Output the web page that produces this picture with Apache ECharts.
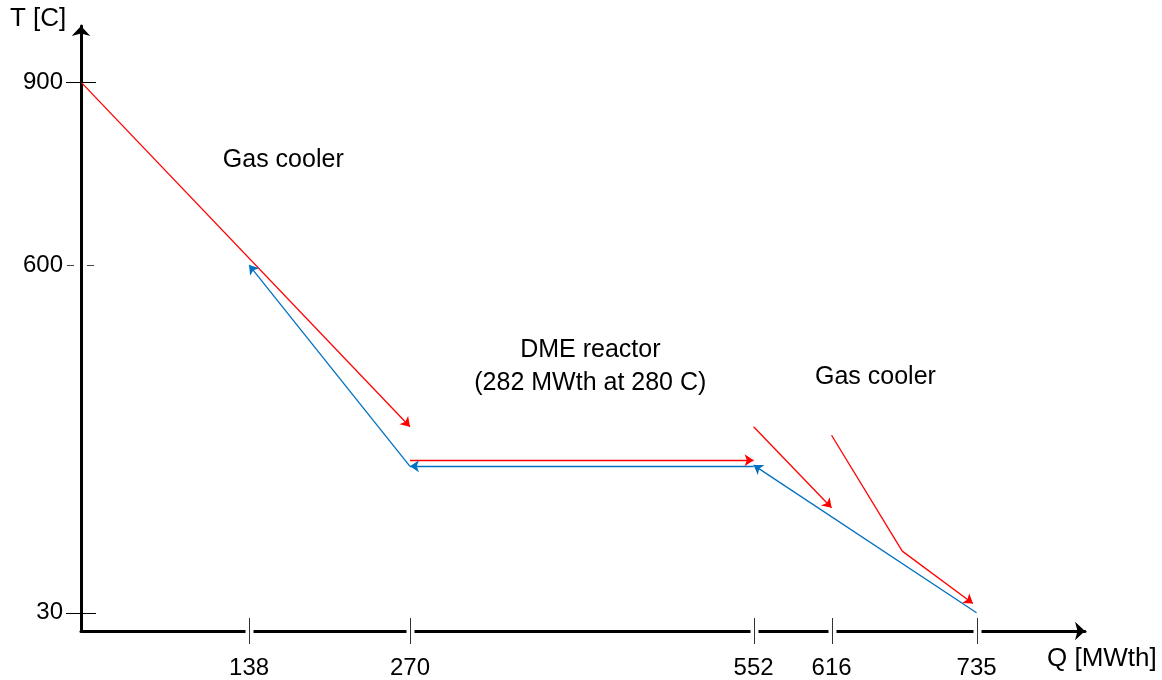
<!DOCTYPE html>
<html>
<head>
<meta charset="utf-8">
<script src="https://cdn.jsdelivr.net/npm/echarts@6/dist/echarts.min.js"></script>
<style>
  html, body { margin: 0; padding: 0; background: #fff; }
  #chart { width: 1162px; height: 680px; }
</style>
</head>
<body>
<div id="chart"></div>
<script>
// Q [MWth] / T [C] diagram data
var xTicks = [138, 270, 552, 616, 735];
var yTicks = [30, 600, 900];

// hot stream (red), segments ending in an arrow
var redArrows = [
    [[0, 900], [270, 335]],
    [[270, 280], [552, 280]],
    [[552, 335], [616, 202]],
    [[674, 131], [732, 45]]
];
// red segment without arrow
var redPlain = [
    [[616, 321], [674, 131]]
];
// cold stream (blue), segments ending in an arrow
var blueArrows = [
    [[552, 270], [270, 270]],
    [[270, 270], [138, 600]],
    [[735, 30], [552, 272]]
];

// annotation text: [Q, T, text]
var notes = [
    [166, 772, 'Gas cooler'],
    [418, 460, 'DME reactor'],
    [418, 407, '(282 MWth at 280 C)'],
    [652, 416, 'Gas cooler']
];

var font = 'Liberation Sans, Arial, sans-serif';
var chart = echarts.init(document.getElementById('chart'));

function toLines(list) {
    return list.map(function (seg) { return { coords: seg }; });
}

var option = {
    animation: false,
    grid: { left: 81, right: 77, top: 26, bottom: 49 },
    xAxis: {
        type: 'value',
        min: 0,
        max: 824,
        splitLine: { show: false },
        axisTick: { show: false },
        axisLine: {
            onZero: false,
            symbol: ['none', 'arrow'],
            symbolSize: [14, 10],
            lineStyle: { color: '#000', width: 3 }
        },
        axisLabel: {
            customValues: xTicks,
            margin: 25,
            fontSize: 24,
            color: '#000',
            fontFamily: font
        }
    },
    yAxis: {
        type: 'value',
        min: 0,
        max: 992,
        splitLine: { show: false },
        axisTick: { show: false },
        axisLine: {
            onZero: false,
            symbol: ['none', 'arrow'],
            symbolSize: [14, 10],
            lineStyle: { color: '#000', width: 3 }
        },
        axisLabel: {
            customValues: yTicks,
            margin: 18,
            fontSize: 24,
            color: '#000',
            fontFamily: font
        }
    },
    graphic: [
        { type: 'text', left: 10, top: 6, style: { text: 'T [C]', font: '26px ' + font, fill: '#000' } },
        { type: 'text', left: 1047, top: 646, style: { text: 'Q [MWth]', font: '26px ' + font, fill: '#000' } }
    ],
    series: [
        {
            type: 'lines',
            coordinateSystem: 'cartesian2d',
            data: toLines(redArrows),
            symbol: ['none', 'arrow'],
            symbolSize: 9,
            lineStyle: { color: '#ff0000', width: 1.3, opacity: 1 },
            z: 3
        },
        {
            type: 'lines',
            coordinateSystem: 'cartesian2d',
            data: toLines(redPlain),
            symbol: ['none', 'none'],
            lineStyle: { color: '#ff0000', width: 1.3, opacity: 1 },
            z: 3
        },
        {
            type: 'lines',
            coordinateSystem: 'cartesian2d',
            data: toLines(blueArrows),
            symbol: ['none', 'arrow'],
            symbolSize: 9,
            lineStyle: { color: '#0070c0', width: 1.3, opacity: 1 },
            z: 3
        },
        {
            // x ticks: gap in the axis plus a thin vertical mark
            type: 'custom',
            z: 5,
            clip: false,
            silent: true,
            data: xTicks,
            renderItem: function (params, api) {
                var p = api.coord([api.value(0), 0]);
                var x = Math.round(p[0]) + 0.5;
                return {
                    type: 'group',
                    children: [
                        { type: 'rect', shape: { x: x - 4, y: p[1] - 3, width: 8, height: 6 }, style: { fill: '#fff' } },
                        { type: 'line', shape: { x1: x, y1: p[1] - 13, x2: x, y2: p[1] + 13 }, style: { stroke: '#333', lineWidth: 1 } }
                    ]
                };
            }
        },
        {
            // y ticks crossing the axis
            type: 'custom',
            z: 5,
            clip: false,
            silent: true,
            data: yTicks,
            renderItem: function (params, api) {
                var v = api.value(0);
                var p = api.coord([0, v]);
                var y = Math.round(p[1]) + 0.5;
                if (v === 600) {
                    return {
                        type: 'group',
                        children: [
                            { type: 'line', shape: { x1: p[0] - 14, y1: y, x2: p[0] - 7, y2: y }, style: { stroke: '#444', lineWidth: 1 } },
                            { type: 'line', shape: { x1: p[0] + 6, y1: y, x2: p[0] + 13, y2: y }, style: { stroke: '#444', lineWidth: 1 } }
                        ]
                    };
                }
                return {
                    type: 'line',
                    shape: { x1: p[0] - 15, y1: y, x2: p[0] + 15, y2: y },
                    style: { stroke: '#000', lineWidth: 1 }
                };
            }
        },
        {
            type: 'scatter',
            symbolSize: 0,
            silent: true,
            z: 4,
            itemStyle: { color: 'transparent', opacity: 1 },
            data: notes.map(function (n) { return { value: [n[0], n[1]], name: n[2] }; }),
            label: {
                show: true,
                position: 'inside',
                formatter: '{b}',
                fontSize: 25,
                color: '#000',
                opacity: 1,
                fontFamily: font
            }
        }
    ]
};

chart.setOption(option);
</script>
</body>
</html>
